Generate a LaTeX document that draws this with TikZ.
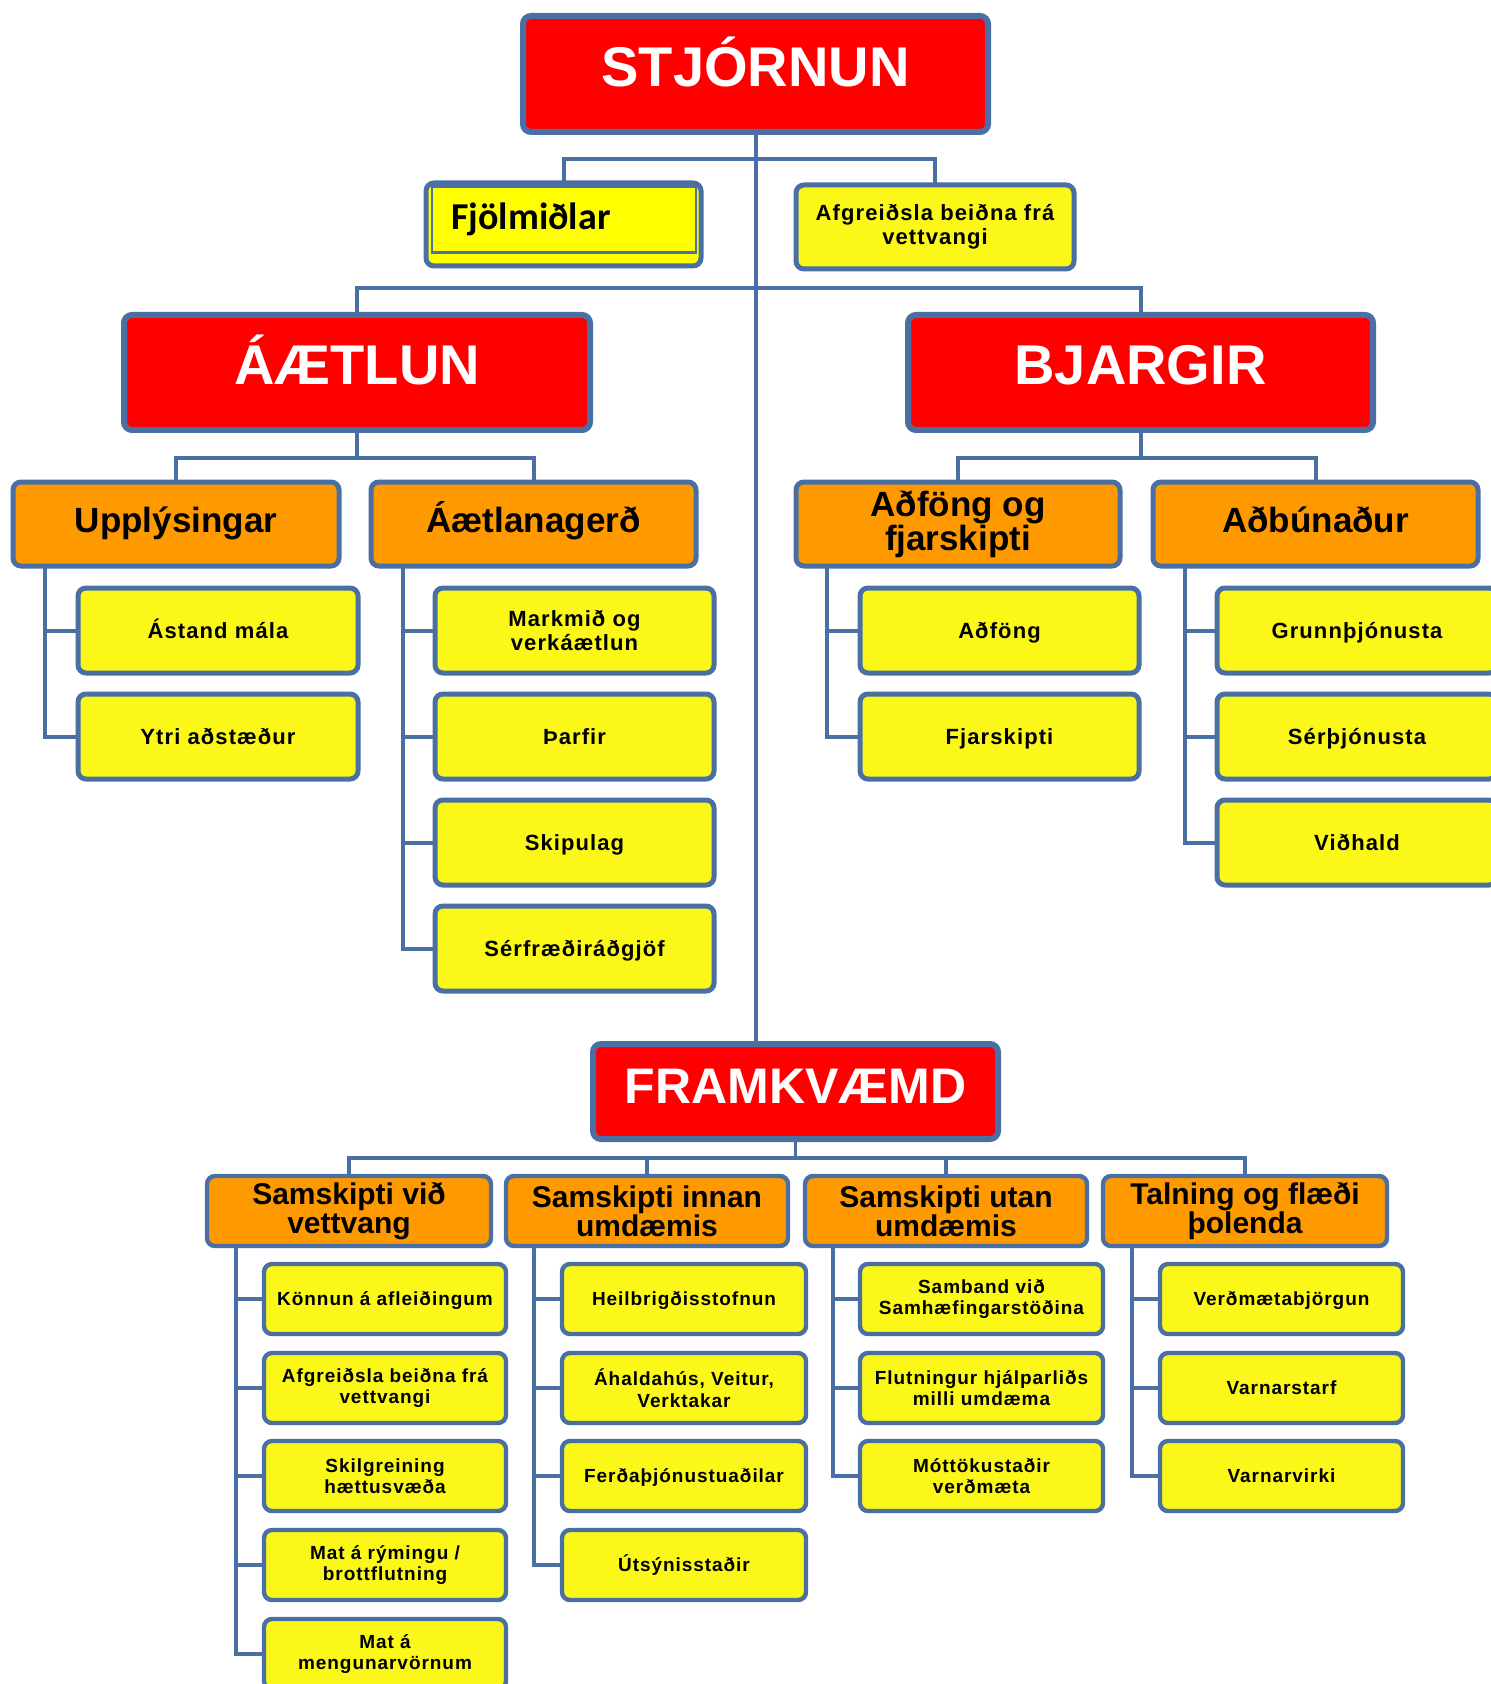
\documentclass[tikz,border=0pt]{standalone}
\usepackage{fontspec}
\usetikzlibrary{backgrounds}
\setmainfont{Liberation Sans}
\newfontfamily\fjfont{Carlito}
\newfontfamily\yfont{Liberation Sans}[LetterSpace=5]
\definecolor{lb}{RGB}{74,112,163}
\definecolor{bred}{RGB}{255,0,0}
\definecolor{borange}{RGB}{255,153,0}
\definecolor{byellow}{RGB}{250,247,25}
\definecolor{pyellow}{RGB}{255,255,0}
\tikzset{
 base/.style={draw=lb, rounded corners=4pt, inner sep=0pt, outer sep=0pt, align=center},
 redbox/.style={base, fill=bred, line width=3pt, text=white, font=\bfseries\fontsize{28}{30}\selectfont, text height=20pt, text depth=7.8pt},
 redbox2/.style={redbox, font=\bfseries\fontsize{25}{27}\selectfont, text height=17.9pt, text depth=5.5pt},
 orbox/.style={base, fill=borange, line width=2.5pt, font=\bfseries\fontsize{17.5}{17.2}\selectfont},
 orbox2/.style={base, fill=borange, line width=2.2pt, font=\bfseries\fontsize{15}{14.5}\selectfont},
 ybox/.style={base, fill=byellow, line width=2.5pt, font=\yfont\bfseries\fontsize{11}{11.8}\selectfont},
 ybox2/.style={base, fill=byellow, line width=2.2pt, font=\yfont\bfseries\fontsize{9.5}{10.7}\selectfont},
 sl/.style={text height=7.9pt, text depth=0pt},
 sl2/.style={text height=6.8pt, text depth=0pt},
 slo/.style={text height=12.5pt, text depth=4.5pt},
 conn/.style={draw=lb, line width=2pt},
 conn2/.style={draw=lb, line width=1.7pt},
}
\newcommand{\bx}[7]{\node[#1, minimum width={(#5-#3)*0.5pt}, minimum height={(#6-#4)*0.5pt}] (#2) at ({(#3+#5)/2},{(#4+#6)/2}) {#7};}
\begin{document}
\begin{tikzpicture}[x=0.5pt,y=-0.5pt]
\useasboundingbox (0,0) rectangle (1491,1684);
% ---------- top ----------
\bx{redbox}{stj}{523}{16}{988}{132}{STJÓRNUN}
\node[base, fill=pyellow, line width=2.5pt, minimum width=137.5pt, minimum height=41.5pt] (fjolb) at (563.5,224.5) {};
\node[draw=lb, fill=pyellow, line width=1.4pt, inner sep=0pt, minimum width=132pt, minimum height=33pt] (fjol) at (564,219.5) {};
\node[anchor=west, font=\fjfont\bfseries\fontsize{19}{20}\selectfont, inner sep=0pt] (fjoltxt) at (451,219) {Fjölmiðlar};
\bx{ybox}{afg}{796}{185}{1074}{269}{Afgreiðsla beiðna frá\\vettvangi}
\bx{redbox}{aaet}{124}{315}{590}{430}{ÁÆTLUN}
\bx{redbox}{bja}{908}{315}{1373}{430}{BJARGIR}
\bx{redbox2}{fram}{593}{1044}{998}{1139}{FRAMKVÆMD}
\coordinate (b1) at (755,159);
\coordinate (b2) at (755,288);
% level 2 top
\bx{orbox,slo}{upp}{13}{482}{339}{566}{Upplýsingar}
\bx{orbox,slo}{aet}{371}{482}{696}{566}{Áætlanagerð}
\bx{orbox}{adf}{796}{482}{1120}{566}{Aðföng og\\fjarskipti}
\bx{orbox,slo}{adb}{1153}{482}{1478}{566}{Aðbúnaður}
% children top
\bx{ybox,sl}{ast}{78}{588}{358}{673}{Ástand mála}
\bx{ybox,sl}{ytri}{78}{694}{358}{779}{Ytri aðstæður}
\bx{ybox}{mark}{435}{588}{714}{673}{Markmið og\\verkáætlun}
\bx{ybox,sl}{thar}{435}{694}{714}{779}{Þarfir}
\bx{ybox,sl}{skip}{435}{800}{714}{885}{Skipulag}
\bx{ybox,sl}{serf}{435}{906}{714}{991}{Sérfræðiráðgjöf}
\bx{ybox,sl}{adfo}{860}{588}{1139}{673}{Aðföng}
\bx{ybox,sl}{fjar}{860}{694}{1139}{779}{Fjarskipti}
\bx{ybox,sl}{grunn}{1217}{588}{1497}{673}{Grunnþjónusta}
\bx{ybox,sl}{serth}{1217}{694}{1497}{779}{Sérþjónusta}
\bx{ybox,sl}{vidh}{1217}{800}{1497}{885}{Viðhald}
% ---------- bottom ----------
\bx{orbox2}{s1}{207}{1176}{491}{1246}{Samskipti við\\vettvang}
\bx{orbox2}{s2}{506}{1176}{788}{1246}{Samskipti innan\\umdæmis}
\bx{orbox2}{s3}{805}{1176}{1087}{1246}{Samskipti utan\\umdæmis}
\bx{orbox2}{s4}{1103}{1176}{1387}{1246}{Talning og flæði\\þolenda}
\bx{ybox2,sl2}{a1}{264}{1264}{506}{1334}{Könnun á afleiðingum}
\bx{ybox2}{a2}{264}{1353}{506}{1423}{Afgreiðsla beiðna frá\\vettvangi}
\bx{ybox2}{a3}{264}{1441}{506}{1511}{Skilgreining\\hættusvæða}
\bx{ybox2}{a4}{264}{1530}{506}{1600}{Mat á rýmingu /\\brottflutning}
\bx{ybox2}{a5}{264}{1619}{506}{1689}{Mat á\\mengunarvörnum}
\bx{ybox2,sl2}{c1}{562}{1264}{806}{1334}{Heilbrigðisstofnun}
\bx{ybox2}{c2}{562}{1353}{806}{1423}{Áhaldahús, Veitur,\\Verktakar}
\bx{ybox2,sl2}{c3}{562}{1441}{806}{1511}{Ferðaþjónustuaðilar}
\bx{ybox2,sl2}{c4}{562}{1530}{806}{1600}{Útsýnisstaðir}
\bx{ybox2}{d1}{860}{1264}{1103}{1334}{Samband við\\Samhæfingarstöðina}
\bx{ybox2}{d2}{860}{1353}{1103}{1423}{Flutningur hjálparliðs\\milli umdæma}
\bx{ybox2}{d3}{860}{1441}{1103}{1511}{Móttökustaðir\\verðmæta}
\bx{ybox2,sl2}{e1}{1160}{1264}{1403}{1334}{Verðmætabjörgun}
\bx{ybox2,sl2}{e2}{1160}{1353}{1403}{1423}{Varnarstarf}
\bx{ybox2,sl2}{e3}{1160}{1441}{1403}{1511}{Varnarvirki}
% ---------- connectors ----------
\begin{scope}[on background layer]
\fill[white] (0,0) rectangle (1491,1684);
\draw[conn] (stj.south) -- (stj.south |- fram.north);
\draw[conn] (fjolb.north) |- (b1) -| (afg.north);
\draw[conn] (aaet.north) |- (b2) -| (bja.north);
\draw[conn] (aaet.south) -- ++(0,28) coordinate (b3);
\draw[conn] (bja.south) -- ++(0,28) coordinate (b4);
\draw[conn] (upp.north) |- (b3) -| (aet.north);
\draw[conn] (adf.north) |- (b4) -| (adb.north);
\foreach \c in {ast,ytri} \draw[conn] ([xshift=16pt]upp.south west) |- (\c.west);
\foreach \c in {mark,thar,skip,serf} \draw[conn] ([xshift=16pt]aet.south west) |- (\c.west);
\foreach \c in {adfo,fjar} \draw[conn] ([xshift=15.5pt]adf.south west) |- (\c.west);
\foreach \c in {grunn,serth,vidh} \draw[conn] ([xshift=16pt]adb.south west) |- (\c.west);
\draw[conn2] (fram.south) -- ++(0,19) coordinate (b5);
\draw[conn2] (s1.north) |- (b5) -| (s4.north);
\draw[conn2] (s2.north) -- (s2.north |- b5);
\draw[conn2] (s3.north) -- (s3.north |- b5);
\foreach \c in {a1,a2,a3,a4,a5} \draw[conn2] ([xshift=14.5pt]s1.south west) |- (\c.west);
\foreach \c in {c1,c2,c3,c4} \draw[conn2] ([xshift=14pt]s2.south west) |- (\c.west);
\foreach \c in {d1,d2,d3} \draw[conn2] ([xshift=14pt]s3.south west) |- (\c.west);
\foreach \c in {e1,e2,e3} \draw[conn2] ([xshift=14.5pt]s4.south west) |- (\c.west);
\end{scope}
\end{tikzpicture}
\end{document}
